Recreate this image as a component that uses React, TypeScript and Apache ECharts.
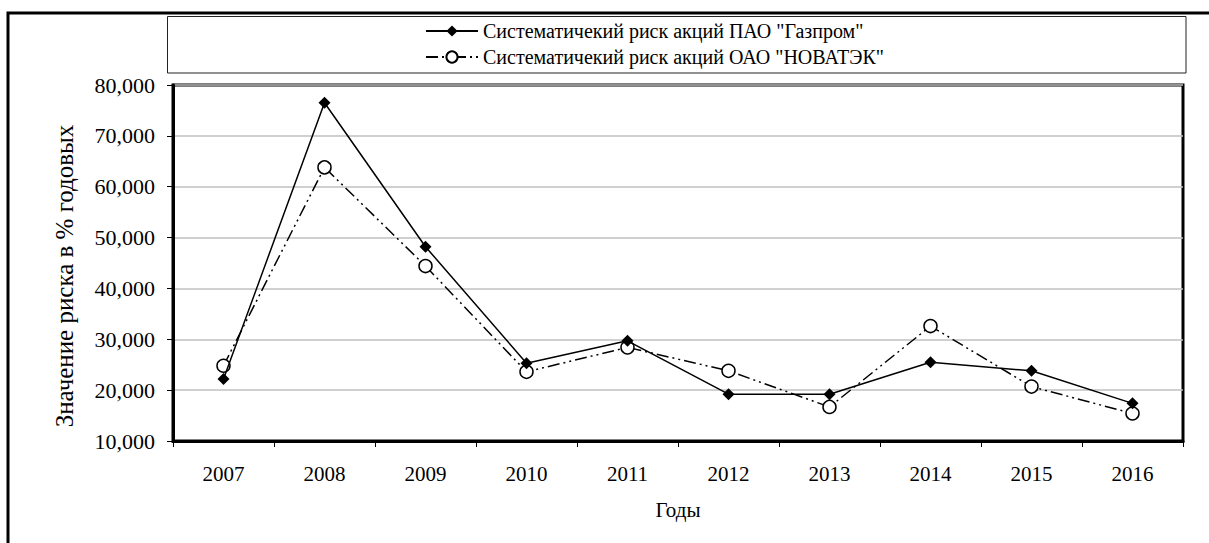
import React, { useEffect, useRef } from "react";
import * as echarts from "echarts";

const years = ["2007", "2008", "2009", "2010", "2011", "2012", "2013", "2014", "2015", "2016"];
const gazprom = [22.2, 76.5, 48.2, 25.3, 29.7, 19.2, 19.2, 25.5, 23.8, 17.4];
const novatek = [24.8, 63.8, 44.4, 23.6, 28.4, 23.8, 16.7, 32.6, 20.7, 15.4];
const seriesNames = [
  'Систематичекий риск акций ПАО "Газпром"',
  'Систематичекий риск акций ОАО "НОВАТЭК"',
];
const yAxisName = "Значение риска в % годовых";
const xAxisName = "Годы";

const FONT = "Liberation Serif, Times New Roman, serif";

export default function App() {
  const ref = useRef<HTMLDivElement>(null);
  useEffect(() => {
    if (!ref.current) return;
    const chart = echarts.init(ref.current, null, { renderer: "svg" });
    chart.setOption({
      animation: false,
      backgroundColor: "#ffffff",
      textStyle: { fontFamily: FONT, color: "#000" },
      graphic: [
        {
          type: "rect",
          shape: { x: 8, y: 13, width: 1230, height: 570 },
          style: { fill: "none", stroke: "#000", lineWidth: 3 },
          z: 0,
        },
        {
          type: "rect",
          shape: { x: 167.5, y: 16.5, width: 1018.5, height: 56.5 },
          style: { fill: "#fff", stroke: "#222", lineWidth: 1 },
          z: 0,
        },
      ],
      legend: {
        orient: "vertical",
        left: 420,
        top: 14,
        itemWidth: 52,
        itemHeight: 14,
        itemGap: 2,
        data: seriesNames,
        textStyle: { fontFamily: FONT, fontSize: 20, color: "#000", lineHeight: 24 },
        z: 5,
      },
      grid: {
        left: 173,
        top: 85,
        right: 26,
        bottom: 102,
        show: true,
        borderColor: "#000",
        borderWidth: 3,
        containLabel: false,
      },
      xAxis: {
        type: "category",
        data: years,
        boundaryGap: true,
        name: xAxisName,
        nameLocation: "middle",
        nameGap: 58,
        nameTextStyle: { fontFamily: FONT, fontSize: 21, color: "#000" },
        axisLine: { show: true, lineStyle: { color: "#000", width: 3 } },
        axisTick: { show: true, inside: false, length: 6, lineStyle: { color: "#000", width: 1 } },
        axisLabel: { fontFamily: FONT, fontSize: 21, color: "#000", margin: 22 },
        splitLine: { show: false },
      },
      yAxis: {
        type: "value",
        min: 10,
        max: 80,
        interval: 10,
        name: yAxisName,
        nameLocation: "middle",
        nameGap: 96,
        nameTextStyle: { fontFamily: FONT, fontSize: 25, color: "#000", padding: [0, 26, 0, 0] },
        axisLine: { show: true, lineStyle: { color: "#000", width: 3 } },
        axisTick: { show: true, inside: false, length: 6, lineStyle: { color: "#000", width: 1 } },
        axisLabel: {
          fontFamily: FONT,
          fontSize: 22,
          color: "#000",
          margin: 18,
          formatter: (v: number) => v.toFixed(3).replace(".", ","),
        },
        splitLine: { show: true, lineStyle: { color: "#c0c0c0", width: 1.5 } },
      },
      series: [
        {
          name: seriesNames[0],
          type: "line",
          data: gazprom,
          symbol: "diamond",
          symbolSize: 12,
          itemStyle: { color: "#000", borderColor: "#000", borderWidth: 0 },
          lineStyle: { color: "#000", width: 1.5, type: "solid" },
          z: 4,
        },
        {
          name: seriesNames[1],
          type: "line",
          data: novatek,
          symbol: "circle",
          symbolSize: 13,
          itemStyle: { color: "#fff", borderColor: "#000", borderWidth: 1.5 },
          lineStyle: { color: "#000", width: 1.5, type: [12, 4, 2, 4, 2, 4] },
          z: 3,
        },
      ],
    });
    return () => chart.dispose();
  }, []);
  return (
    <div
      ref={ref}
      style={{ position: "absolute", left: 0, top: 0, width: 1209, height: 543 }}
    />
  );
}
